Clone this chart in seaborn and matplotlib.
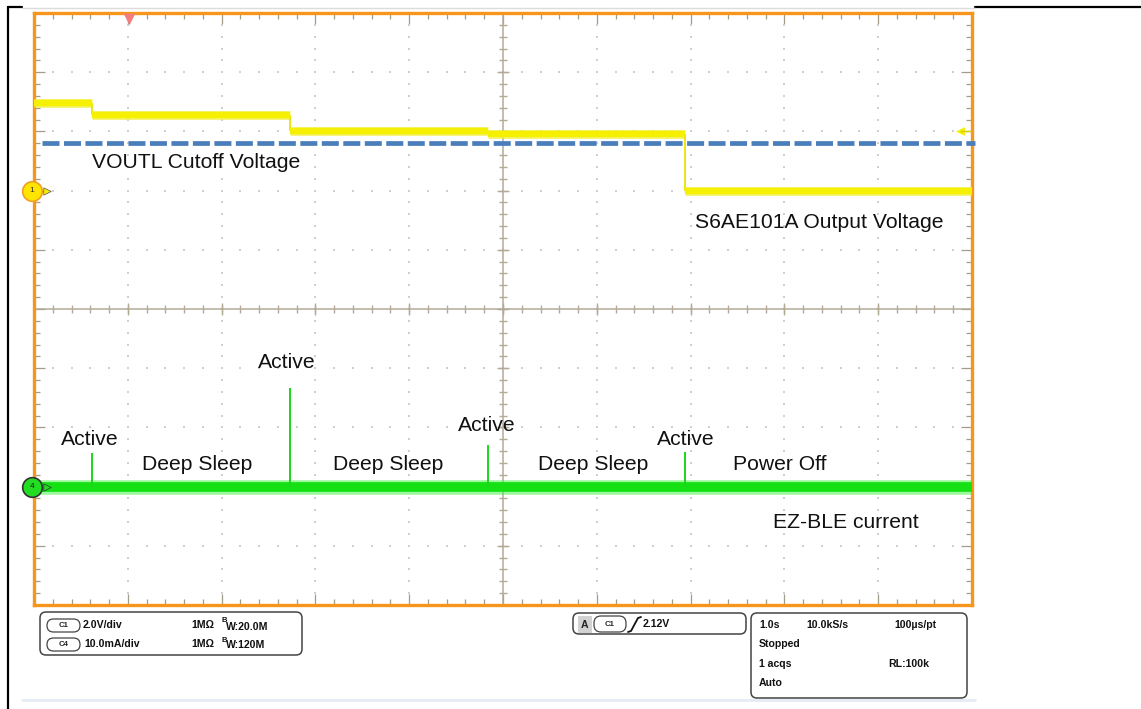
import numpy as np
import pandas as pd
import matplotlib
matplotlib.use("Agg")
import matplotlib.pyplot as plt
import seaborn as sns
from matplotlib.patches import FancyBboxPatch, Rectangle

# ---------------- data ----------------
time_per_div = 1.0          # s/div
n_xdiv = 10
n_ydiv = 10

ch1_scale = 2.0             # V/div
ch1_offset_div = 2.0
ch4_scale = 10.0            # mA/div
ch4_offset_div = -3.0

vout_bounds = [0.0, 0.62, 2.73, 4.84, 6.94, 10.0]      # s
vout_levels = [2.96, 2.55, 2.01, 1.91, 0.0]            # V
cutoff_voltage = 1.6                                   # V
trigger_time = 1.01                                    # s
trigger_marker_level = 2.0                             # V (display)

spike_times = [0.62, 2.73, 4.84, 6.94]                 # s
spike_peaks = [5.6, 16.7, 7.1, 5.9]                    # mA
current_baseline = 0.0                                 # mA

label_texts = ["VOUTL Cutoff Voltage", "S6AE101A Output Voltage",
               "Active", "Deep Sleep", "Active", "Deep Sleep",
               "Active", "Deep Sleep", "Active", "Power Off", "EZ-BLE current"]
label_x = [0.618, 7.047, 0.288, 1.151, 2.388, 3.188, 4.520, 5.373, 6.642, 7.452, 7.878]
label_y = [2.382, 1.368, -2.297, -2.720, -0.997, -2.720, -2.061, -2.720, -2.297, -2.720, -3.699]

# ---------------- style ----------------
sns.set_theme(style="white")
plt.rcParams['font.family'] = ['Liberation Sans', 'DejaVu Sans']

W, H = 1141, 709
fig = plt.figure(figsize=(W / 100, H / 100), dpi=100)

# overlay (pixel coordinates) for page frame and info boxes
ov = fig.add_axes([0, 0, 1, 1], zorder=0)
ov.set_xlim(0, W)
ov.set_ylim(H, 0)
ov.axis("off")

# main scope graticule
L, R, T, B = 34, 972, 13, 605
ax = fig.add_axes([L / W, (H - B) / H, (R - L) / W, (B - T) / H], zorder=2)
ax.set_xlim(0, n_xdiv * time_per_div)
ax.set_ylim(-n_ydiv / 2, n_ydiv / 2)

def v2d(v):
    return v / ch1_scale + ch1_offset_div

def i2d(i):
    return i / ch4_scale + ch4_offset_div

# grid dots
grid_col = "#cfcfcf"
minor = np.arange(0, n_xdiv + 0.001, 0.2)
minor_y = np.arange(-n_ydiv / 2, n_ydiv / 2 + 0.001, 0.2)
gx, gy = [], []
for yv in range(-4, 5):
    if yv == 0:
        continue
    gx += list(minor); gy += [yv] * len(minor)
for xv in range(1, 10):
    if xv == 5:
        continue
    gx += [xv] * len(minor_y); gy += list(minor_y)
ax.scatter(gx, gy, s=2.0, marker="s", color=grid_col, linewidths=0, zorder=1)

# center axes with ticks
ax_col = "#b3ab98"
ax.axhline(0, color=ax_col, lw=1.1, zorder=1.5)
ax.axvline(5, color=ax_col, lw=1.1, zorder=1.5)
ax.vlines(minor, -0.06, 0.06, color=ax_col, lw=1.0, zorder=1.5)
ax.vlines(np.arange(0, 11), -0.1, 0.1, color=ax_col, lw=1.0, zorder=1.5)
ax.hlines(minor_y, 5 - 0.038, 5 + 0.038, color=ax_col, lw=1.0, zorder=1.5)
ax.hlines(np.arange(-5, 6), 5 - 0.06, 5 + 0.06, color=ax_col, lw=1.0, zorder=1.5)

# border ticks
ax.set_xticks(np.arange(0, 11, 1))
ax.set_xticks(minor, minor=True)
ax.set_yticks(np.arange(-5, 6, 1))
ax.set_yticks(minor_y, minor=True)
ax.tick_params(which="both", direction="in", top=True, right=True, bottom=True, left=True,
               labelbottom=False, labelleft=False, color="#a39c88", width=0.9)
ax.tick_params(which="major", length=8)
ax.tick_params(which="minor", length=4.3)
for sp in ax.spines.values():
    sp.set_color("#f7961c")
    sp.set_linewidth(2.4)
    sp.set_visible(True)
ax.grid(False)

# --- CH1 yellow trace (step levels) ---
seg_x, seg_y, seg_id = [], [], []
for i, lvl in enumerate(vout_levels):
    seg_x += [vout_bounds[i], vout_bounds[i + 1]]
    seg_y += [v2d(lvl), v2d(lvl)]
    seg_id += [i, i]
df_v = pd.DataFrame({"t": seg_x, "div": seg_y, "seg": seg_id})
sns.lineplot(data=df_v, x="t", y="div", units="seg", estimator=None, sort=False,
             color="#f2ee30", lw=6.4, ax=ax, zorder=4, solid_capstyle="butt", alpha=0.7)
sns.lineplot(data=df_v, x="t", y="div", units="seg", estimator=None, sort=False,
             color="#f4f000", lw=4.6, ax=ax, zorder=4.1, solid_capstyle="butt")
for i in range(1, len(vout_levels)):
    ax.vlines(vout_bounds[i], v2d(vout_levels[i]), v2d(vout_levels[i - 1]),
              color="#e8e400", lw=1.3, zorder=4)

# cutoff dashed line
df_c = pd.DataFrame({"t": [0.085, 10.03], "div": [v2d(cutoff_voltage)] * 2})
sns.lineplot(data=df_c, x="t", y="div", color="#4a7ebb", lw=3.4, ax=ax, zorder=5,
             dashes=False)
cl = ax.lines[-1]
cl.set_dashes((3.6, 0.95))
cl.set_clip_on(False)

# --- CH4 green trace ---
df_i = pd.DataFrame({"t": [0.0, 10.0], "div": [i2d(current_baseline)] * 2})
sns.lineplot(data=df_i, x="t", y="div", color="#3cf03c", lw=10.5, ax=ax, zorder=3,
             solid_capstyle="butt", alpha=0.5)
sns.lineplot(data=df_i, x="t", y="div", color="#14e014", lw=7.0, ax=ax, zorder=3.1,
             solid_capstyle="butt")
ax.vlines(spike_times, i2d(current_baseline), [i2d(p) for p in spike_peaks],
          color="#18d818", lw=1.4, zorder=3.2)

# channel markers
ax.scatter([-0.02], [v2d(0)], s=200, color="#ffe400", edgecolors="#f0a020",
           linewidths=1.2, zorder=6, clip_on=False)
ax.text(-0.02, v2d(0), "1", fontsize=6, ha="center", va="center", zorder=7,
        color="#333", clip_on=False)
ax.scatter([0.14], [v2d(0)], s=28, marker=">", color="#f4f000", edgecolors="#555",
           linewidths=0.5, zorder=6, clip_on=False)
ax.scatter([-0.02], [i2d(0)], s=200, color="#22dd22", edgecolors="#333",
           linewidths=1.2, zorder=6, clip_on=False)
ax.text(-0.02, i2d(0), "4", fontsize=6, ha="center", va="center", zorder=7,
        color="#222", clip_on=False)
ax.scatter([0.14], [i2d(0)], s=28, marker=">", color="#22dd22", edgecolors="#333",
           linewidths=0.5, zorder=6, clip_on=False)

# trigger markers
ax.scatter([trigger_time], [4.9], s=70, marker="v", color="#f47c7c", linewidths=0,
           zorder=6, clip_on=False)
ax.scatter([9.87], [v2d(trigger_marker_level)], s=40, marker="<", color="#f4f000",
           linewidths=0, zorder=6)
ax.hlines(v2d(trigger_marker_level), 9.87, 10.0, color="#d8d000", lw=1.0, zorder=6)

# annotations
for s, x, y in zip(label_texts, label_x, label_y):
    ax.text(x, y, s, fontsize=15.2, color="#111111", ha="left", va="baseline", zorder=8)

# ---------------- page frame ----------------
ov.plot([8, 8], [7, H], color="black", lw=1.6)
ov.plot([8, 22], [7, 7], color="black", lw=1.6)
ov.plot([975, W], [7, 7], color="black", lw=1.6)
ov.plot([22, 975], [8, 8], color="#dcdcdc", lw=1.0)
ov.plot([22, 975], [700, 700], color="#e6ecf6", lw=2.0)

def rbox(x0, y0, x1, y1, r=6, lw=1.1, ec="#444444", fc="none"):
    ov.add_patch(FancyBboxPatch((x0, y0), x1 - x0, y1 - y0,
                                boxstyle=f"round,pad=0,rounding_size={r}",
                                linewidth=lw, edgecolor=ec, facecolor=fc))

info_fs = 7.6
bold = dict(fontsize=info_fs, fontweight="bold", color="#111111", va="center", ha="left")

# Box 1: channel settings
rbox(40, 612, 302, 655)
rbox(47, 619, 80, 632, r=6.5, lw=0.9)
ov.text(63.5, 625.8, "C1", fontsize=5.6, fontweight="bold", ha="center", va="center", color="#222")
ov.text(83, 625, "2.0V/div", **bold)
rbox(47, 638, 80, 651, r=6.5, lw=0.9)
ov.text(63.5, 644.8, "C4", fontsize=5.6, fontweight="bold", ha="center", va="center", color="#222")
ov.text(84, 644, "10.0mA/div", **bold)
for yy, bw in [(625, "W:20.0M"), (644, "W:120M")]:
    ov.text(191, yy, "1MΩ", **bold)
    ov.text(221, yy - 4, "B", fontsize=5.5, fontweight="bold", color="#111", va="center", ha="left")
    ov.text(225.5, yy + 1.5, bw, **bold)

# Box 2: trigger
rbox(573, 613, 746, 634)
ov.add_patch(Rectangle((578, 615.5), 14, 17, facecolor="#d2d2d2", edgecolor="none"))
ov.text(585, 624.5, "A", fontsize=info_fs, fontweight="bold", ha="center", va="center", color="#222")
rbox(594, 616, 626, 632, r=7, lw=0.9)
ov.text(610, 624.5, "C1", fontsize=5.6, fontweight="bold", ha="center", va="center", color="#222")
ov.plot([628, 631, 638, 641], [632, 631, 618, 617], color="#111", lw=1.3)
ov.text(643, 624, "2.12V", **bold)

# Box 3: acquisition
rbox(751, 613, 967, 698)
ov.text(759, 625, "1.0s", **bold)
ov.text(806, 625, "10.0kS/s", **bold)
ov.text(894, 625, "100µs/pt", **bold)
ov.text(759, 644, "Stopped", **bold)
ov.text(759, 664, "1 acqs", **bold)
ov.text(888, 664, "RL:100k", **bold)
ov.text(759, 683.5, "Auto", **bold)

fig.savefig("out.png", dpi=100)
